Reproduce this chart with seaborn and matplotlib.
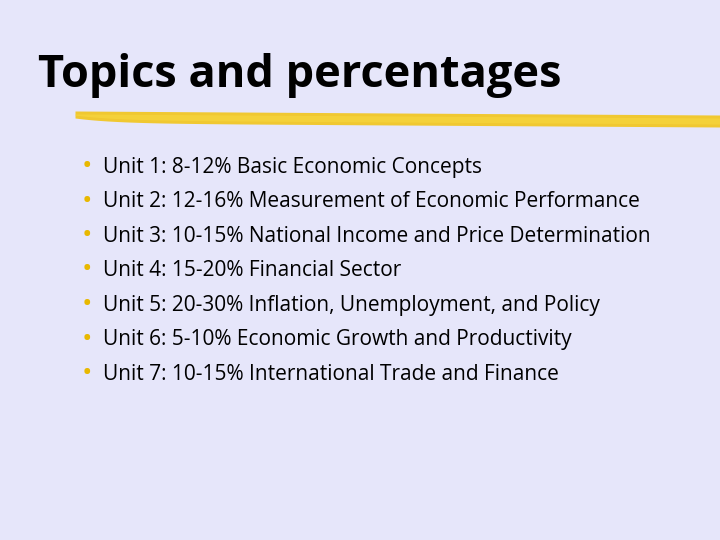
import matplotlib
matplotlib.use("Agg")
import matplotlib.pyplot as plt
import seaborn as sns
import numpy as np

title = "Topics and percentages"
units = ["Unit 1:", "Unit 2:", "Unit 3:", "Unit 4:", "Unit 5:", "Unit 6:", "Unit 7:"]
ranges = ["8-12%", "12-16%", "10-15%", "15-20%", "20-30%", "5-10%", "10-15%"]
topics = ["Basic Economic Concepts", "Measurement of Economic Performance",
          "National Income and Price Determination", "Financial Sector",
          "Inflation, Unemployment, and Policy", "Economic Growth and Productivity",
          "International Trade and Finance"]

sns.set_theme(style="white")
plt.rcParams['font.family'] = ['Open Sans', 'DejaVu Sans']
bg = "#E6E6FA"
fig = plt.figure(figsize=(7.2, 5.4), dpi=100, facecolor=bg)
ax = fig.add_axes([0, 0, 1, 1])
ax.set_facecolor(bg)
ax.set_xlim(0, 720); ax.set_ylim(540, 0); ax.axis("off")

ax.text(38, 75, title, fontsize=32.5, fontweight="bold", color="black", va="center", ha="left")

# brush stroke
x = np.linspace(75, 720, 200)
top = 111 + (x - 75) / 645 * 4
bot = 123 + (x - 75) / 645 * 4 - 5 * np.exp(-((x - 75) / 40))
ax.fill_between(x, top, bot, color="#F2C51B", alpha=0.9, lw=0)
ax.fill_between(x, top + 3, bot - 3, color="#F8D840", alpha=0.6, lw=0)

y0, dy = 167, 34.5
for i, (u, r, t) in enumerate(zip(units, ranges, topics)):
    y = y0 + i * dy
    ax.text(82, y, "•", fontsize=20, color="#E8B800", va="center", ha="left")
    ax.text(103, y, f"{u} {r} {t}", fontsize=15, color="black", va="center", ha="left")

fig.savefig("out.png", dpi=100, facecolor=bg)
